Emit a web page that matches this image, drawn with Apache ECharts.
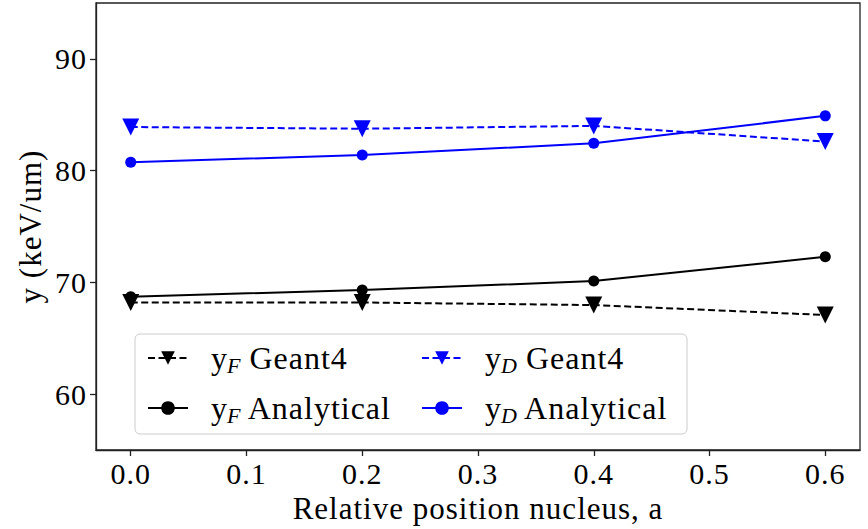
<!DOCTYPE html>
<html>
<head>
<meta charset="utf-8">
<script src="https://cdn.jsdelivr.net/npm/echarts@6/dist/echarts.min.js"></script>
<style>html,body{margin:0;padding:0;background:#fff;}#c{width:868px;height:529px;letter-spacing:1px;}</style>
</head>
<body>
<div id="c"></div>
<script>
const positions = [0.0, 0.2, 0.4, 0.6];
const yFGeant4 = [68.19, 68.2, 67.97, 67.08];
const yFAnalytical = [68.72, 69.31, 70.12, 72.29];
const yDGeant4 = [83.9, 83.75, 84.0, 82.6];
const yDAnalytical = [80.74, 81.4, 82.44, 84.9];
const xTicks = [0, 0.1, 0.2, 0.3, 0.4, 0.5, 0.6];
const yTicks = [60, 70, 80, 90];

const FONT = "'Liberation Serif', serif";
const pair = (xs, ys) => xs.map((x, i) => [x, ys[i]]);

function lineSeries(name, data, color, dashed, tri) {
  return {
    name: name,
    type: 'line',
    data: pair(positions, data),
    symbol: tri ? 'triangle' : 'circle',
    symbolRotate: tri ? 180 : 0,
    symbolSize: tri ? 17 : 11,
    showSymbol: true,
    color: color,
    itemStyle: {color: color},
    lineStyle: {color: color, width: 2, type: dashed ? [7, 3.5] : 'solid'},
    animation: false,
    z: 3
  };
}

const chart = echarts.init(document.getElementById('c'), null, {renderer: 'svg'});
const rich = {
  sub: {fontFamily: FONT, fontSize: 22, fontStyle: 'italic', verticalAlign: 'bottom', padding: [14, 0, 0, 0], color: '#000'}
};
chart.setOption({
  backgroundColor: '#fff',
  animation: false,
  grid: {left: 96, right: 8, top: 3, bottom: 79, show: true, borderColor: '#222', borderWidth: 1.3, backgroundColor: 'transparent', outerBoundsMode: 'none', containLabel: false},
  xAxis: {
    type: 'value', min: -0.03, max: 0.63,
    name: 'Relative position nucleus, a', nameLocation: 'middle', nameGap: 42,
    nameTextStyle: {fontFamily: FONT, fontSize: 31, color: '#000'},
    axisLine: {show: true, onZero: false, lineStyle: {color: '#222', width: 1.3}},
    axisTick: {show: true, length: 6, lineStyle: {color: '#222', width: 1.3}, customValues: xTicks},
    axisLabel: {fontFamily: FONT, fontSize: 30, color: '#000', margin: 8, customValues: xTicks, formatter: v => v.toFixed(1)},
    splitLine: {show: false}
  },
  yAxis: {
    type: 'value', min: 55, max: 95,
    name: 'y (keV/um)', nameLocation: 'middle', nameGap: 43,
    nameTextStyle: {fontFamily: FONT, fontSize: 31, color: '#000'},
    axisLine: {show: true, onZero: false, lineStyle: {color: '#222', width: 1.3}},
    axisTick: {show: true, length: 6, lineStyle: {color: '#222', width: 1.3}, customValues: yTicks},
    axisLabel: {fontFamily: FONT, fontSize: 30, color: '#000', margin: 9, customValues: yTicks, formatter: v => String(v)},
    splitLine: {show: false}
  },
  legend: {
    left: 135, top: 334, width: 545,
    orient: 'horizontal',
    itemWidth: 40, itemHeight: 17, itemGap: 14,
    padding: [6, 6, 8, 12],
    backgroundColor: 'rgba(255,255,255,0.85)',
    borderColor: '#ccc', borderWidth: 1, borderRadius: 5,
    data: ['yF Geant4', 'yD Geant4', 'yF Analytical', 'yD Analytical'],
    formatter: function (n) {
      const sub = n.charAt(1);
      return 'y{sub|' + sub + '} ' + n.slice(3);
    },
    textStyle: {fontFamily: FONT, fontSize: 32, color: '#000', width: 196, height: 36, lineHeight: 36, rich: rich, padding: [0, 0, 0, 18]}
  },
  series: [
    lineSeries('yF Geant4', yFGeant4, '#000', true, true),
    lineSeries('yF Analytical', yFAnalytical, '#000', false, false),
    lineSeries('yD Geant4', yDGeant4, '#0000ff', true, true),
    lineSeries('yD Analytical', yDAnalytical, '#0000ff', false, false)
  ]
});
</script>
</body>
</html>
